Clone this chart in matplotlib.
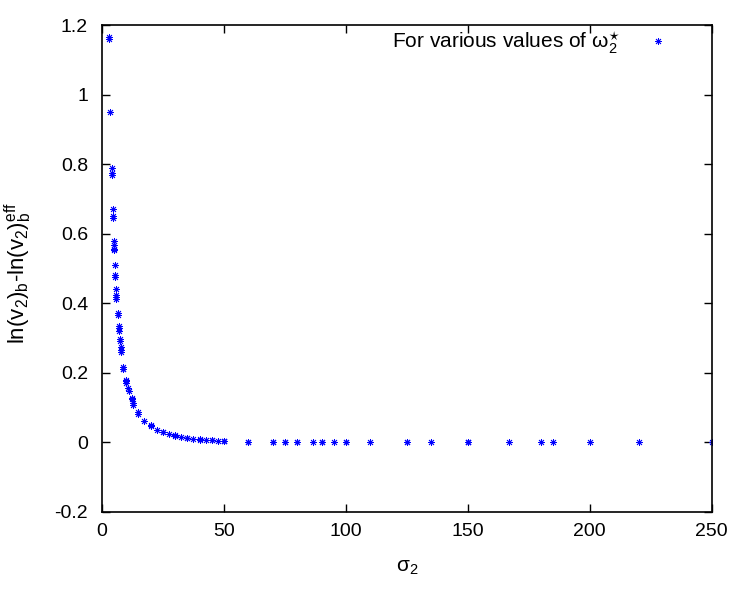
import matplotlib
matplotlib.use("Agg")
import matplotlib.pyplot as plt
from matplotlib.ticker import FormatStrFormatter

plt.rcParams['font.family'] = ['Liberation Sans', 'DejaVu Sans']
plt.rcParams['mathtext.default'] = 'regular'

# sigma_2 values (several omega_2* runs share the same sigma_2)
sigma2 = [3.0, 3.0, 3.3,
          4.0, 4.0, 4.0, 4.4, 4.4, 4.4,
          4.9, 4.9, 4.9, 4.9, 5.3, 5.3, 5.3,
          5.7, 5.7, 5.7, 5.7, 6.4, 6.4,
          7.0, 7.0, 7.0, 7.4, 7.4, 7.7, 7.7, 7.7,
          8.7, 8.7, 8.7, 9.8, 9.8, 9.8,
          10.8, 11.1, 12.2, 12.2, 12.8, 12.8,
          14.9, 14.9, 17.2, 20, 20, 22.4,
          25, 25, 27.5, 30, 30, 32.5, 35, 35, 37.5,
          40, 40, 42.5, 45, 45, 47.5, 50, 50, 50,
          60, 60, 70, 70, 75, 75, 80, 80, 86.6,
          90, 90, 95, 100, 100, 110, 125, 125, 135,
          150, 150, 150, 166.7, 180, 185, 200, 220, 250]
delta_ln = [1.165, 1.160, 0.950,
            0.788, 0.775, 0.770, 0.670, 0.652, 0.646,
            0.579, 0.567, 0.557, 0.552, 0.509, 0.480, 0.476,
            0.442, 0.425, 0.418, 0.412, 0.372, 0.365,
            0.335, 0.328, 0.320, 0.298, 0.290, 0.275, 0.265, 0.260,
            0.218, 0.212, 0.210, 0.180, 0.175, 0.172,
            0.155, 0.148, 0.128, 0.124, 0.112, 0.108,
            0.086, 0.082, 0.061, 0.050, 0.047, 0.036,
            0.031, 0.029, 0.024, 0.021, 0.019, 0.016, 0.013, 0.012, 0.010,
            0.009, 0.008, 0.007, 0.006, 0.006, 0.005, 0.004, 0.003, 0.003,
            0.002, 0.002, 0.001, 0.001, 0.001, 0.001, 0.001, 0.001, 0.0007,
            0.0006, 0.0006, 0.0005, 0.0004, 0.0004, 0.0003, 0.0002, 0.0002, 0.0002,
            0.0001, 0.0001, 0.0001, 0.0001, 0.0001, 0.0001, 0.0, 0.0, 0.0]

xticks = [0, 50, 100, 150, 200, 250]
yticks = [-0.2, 0, 0.2, 0.4, 0.6, 0.8, 1.0, 1.2]

fig = plt.figure(figsize=(7.5, 6), dpi=100)
ax = fig.add_axes([0.136, 0.147, 0.813, 0.811])

# gnuplot-style asterisk: 8 spokes
ax.plot(sigma2, delta_ln, linestyle='none', marker=(8, 2, 0), markersize=5,
        markeredgewidth=0.6, color='#0000ff',
        label=r'For various values of $\omega_2^{\star}$')

ax.set_xlim(0, 250)
ax.set_ylim(-0.2, 1.2)
ax.set_xticks(xticks)
ax.set_yticks(yticks)
ax.yaxis.set_major_formatter(FormatStrFormatter('%g'))
ax.tick_params(direction='in', top=True, right=True, length=6, width=1,
               labelsize=14)
ax.tick_params(axis='x', pad=8)
ax.tick_params(axis='y', pad=10)
for s in ax.spines.values():
    s.set_linewidth(1.2)

ax.set_xlabel(r'$\sigma_2$', fontsize=15, labelpad=13)
ax.set_ylabel(r'ln(v$_2$)$_b$-ln(v$_2$)$_b^{eff}$', fontsize=16)
ax.yaxis.set_label_coords(-0.112, 0.49)

ax.legend(loc='upper right', bbox_to_anchor=(0.962, 1.008), frameon=False,
          markerfirst=False, fontsize=15, handlelength=2.1,
          handletextpad=0.8, borderaxespad=0)

fig.savefig('out.png', dpi=100)
